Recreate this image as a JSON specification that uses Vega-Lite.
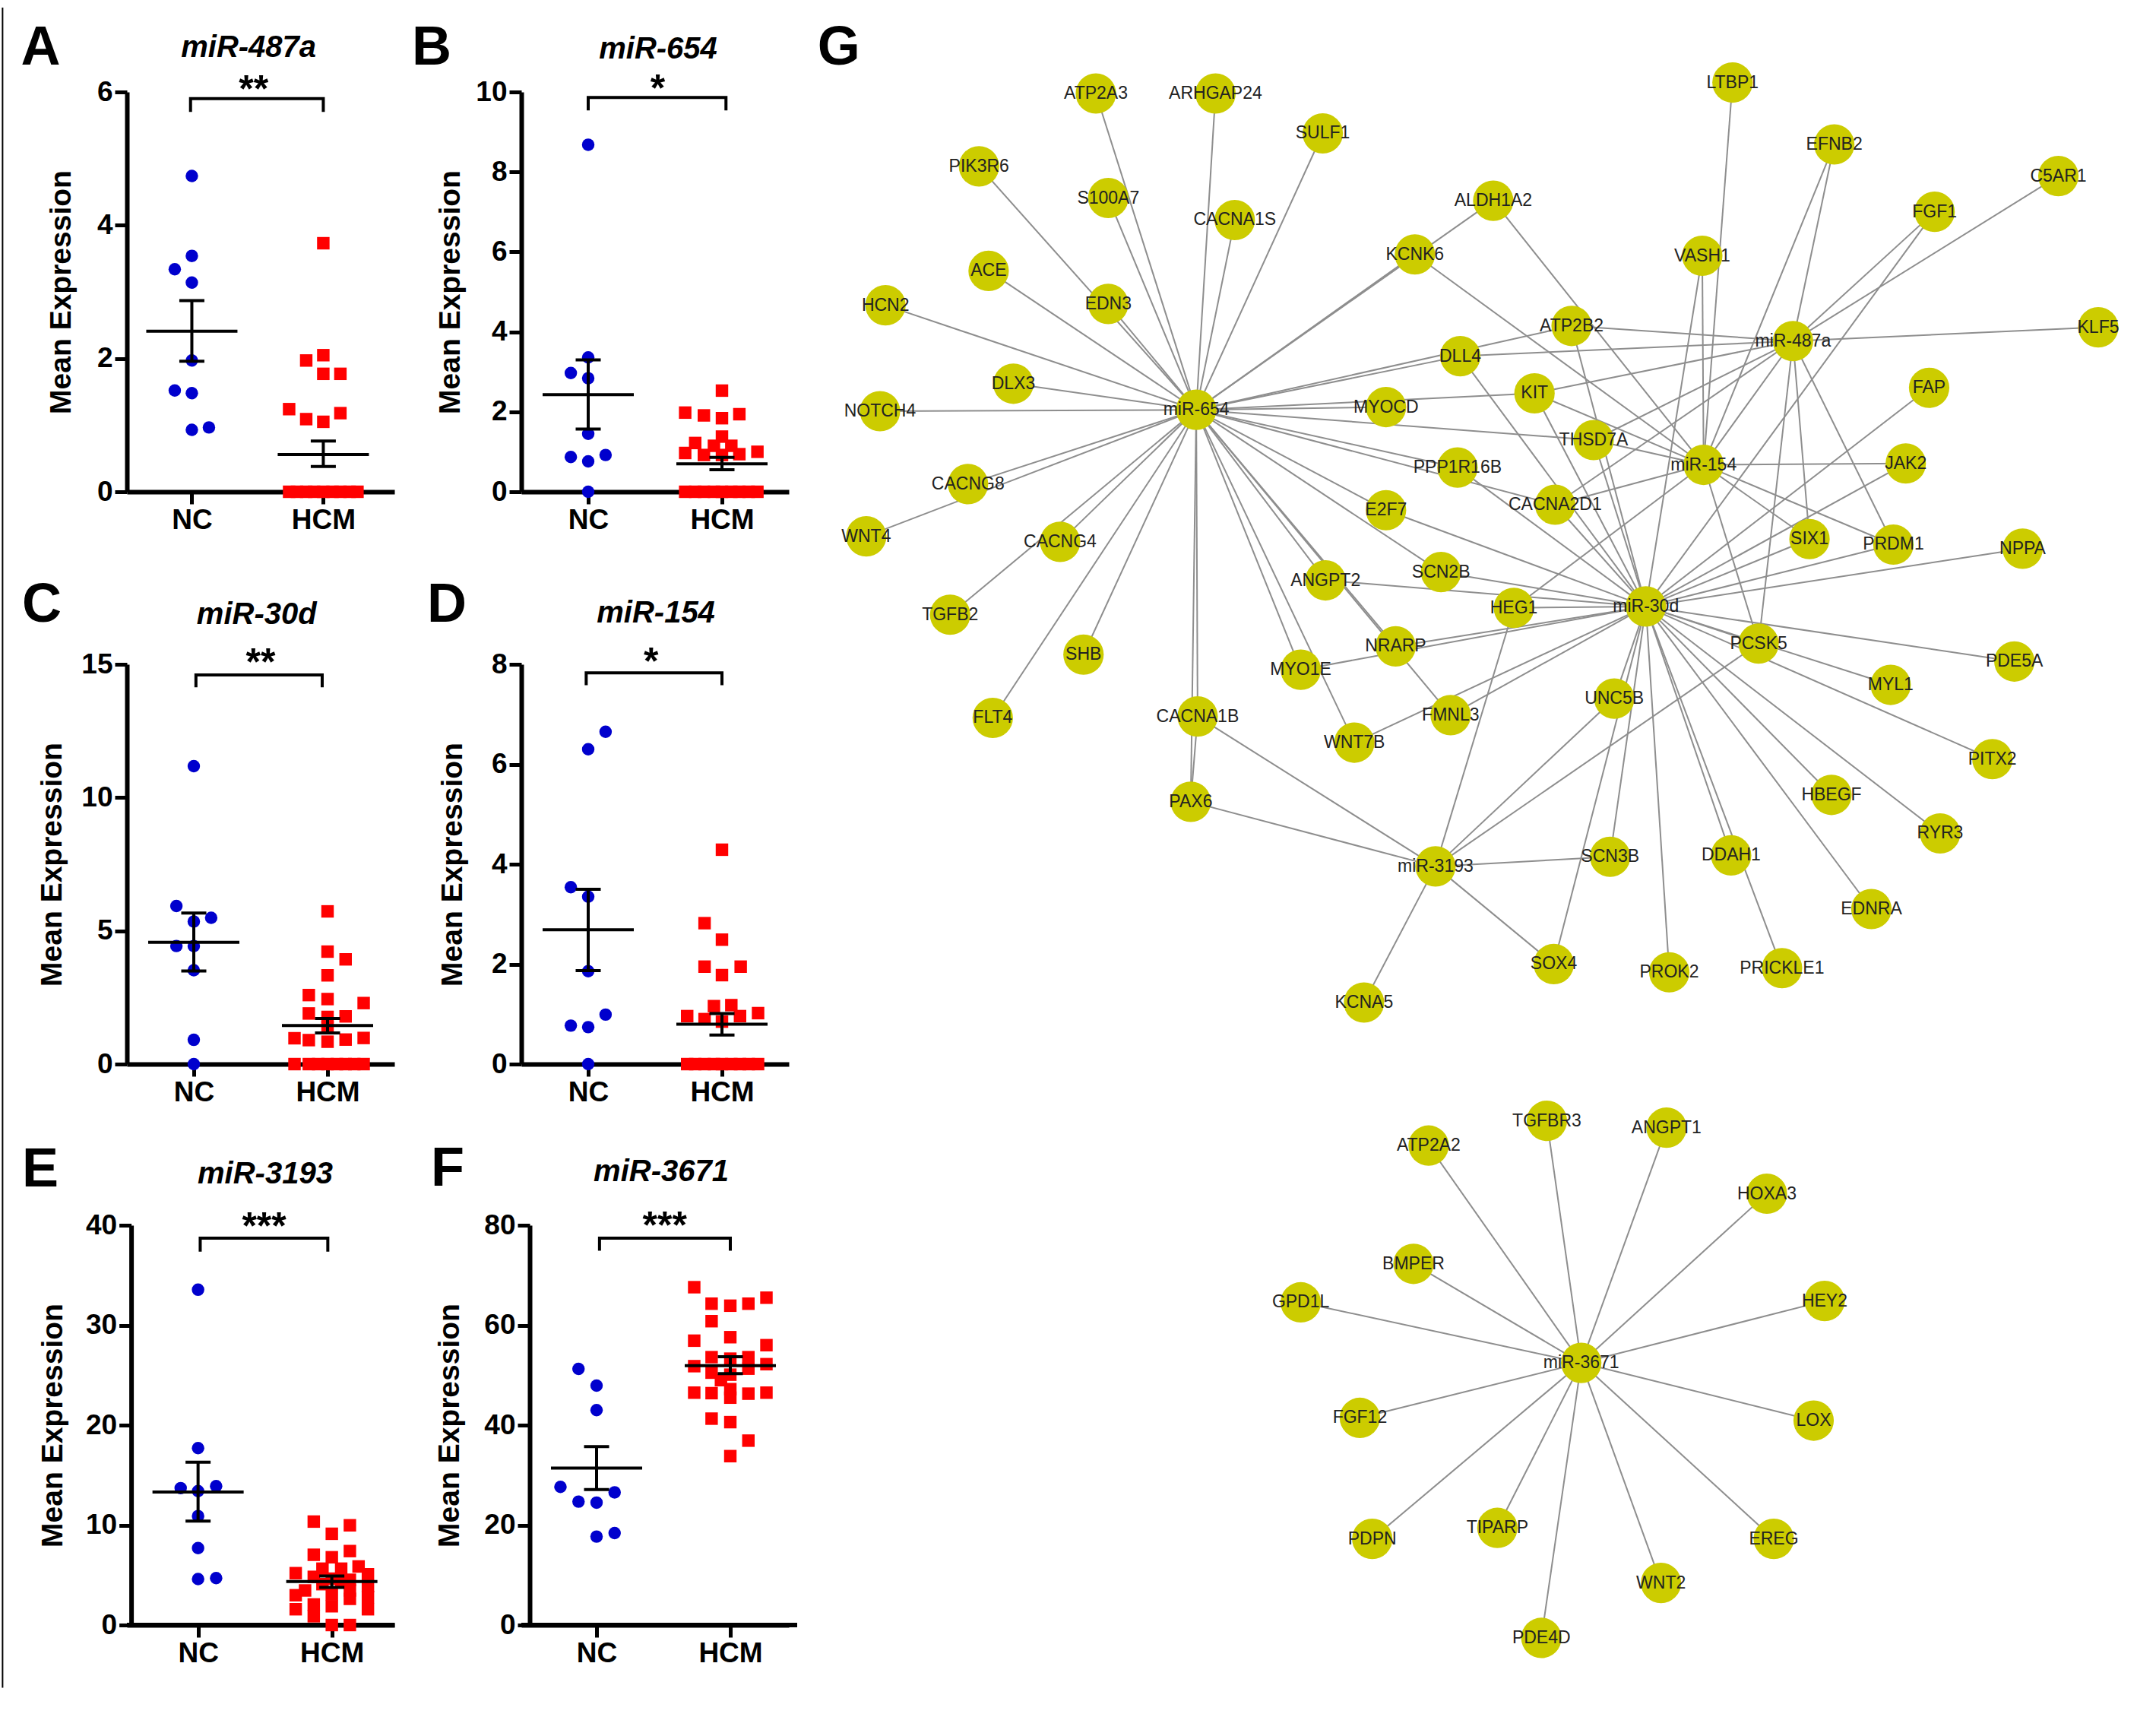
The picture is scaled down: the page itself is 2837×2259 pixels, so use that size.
{"$schema":"https://vega.github.io/schema/vega-lite/v6.json","padding":{"left":2,"top":9,"right":0,"bottom":0},"background":"white","columns":3,"bounds":"flush","spacing":{"row":212,"column":167},
"config":{"view":{"stroke":null},"axis":{"grid":false,"domainColor":"black","domainWidth":6,"tickColor":"black","tickWidth":5,"tickSize":16,"labelFont":"Liberation Sans","labelFontWeight":"bold","labelFontSize":37,"labelColor":"black","labelPadding":3,"labelOverlap":false,"labelBound":false,"labelFlush":false,"titleFont":"Liberation Sans","titleFontWeight":"bold","titleFontSize":39,"titleColor":"black"}},
"datasets":{
"points":[
{"p":"A","g":"NC","x":1,"y":4.74},{"p":"A","g":"NC","x":1,"y":3.54},{"p":"A","g":"NC","x":0.87,"y":3.34},{"p":"A","g":"NC","x":1,"y":3.14},{"p":"A","g":"NC","x":1,"y":1.97},{"p":"A","g":"NC","x":0.87,"y":1.52},{"p":"A","g":"NC","x":1,"y":1.48},{"p":"A","g":"NC","x":1.13,"y":0.965},{"p":"A","g":"NC","x":1,"y":0.93},
{"p":"A","g":"HCM","x":2,"y":3.73},{"p":"A","g":"HCM","x":2,"y":2.05},{"p":"A","g":"HCM","x":1.87,"y":1.97},{"p":"A","g":"HCM","x":2,"y":1.77},{"p":"A","g":"HCM","x":2.13,"y":1.77},{"p":"A","g":"HCM","x":1.74,"y":1.24},{"p":"A","g":"HCM","x":2.13,"y":1.18},{"p":"A","g":"HCM","x":1.87,"y":1.09},{"p":"A","g":"HCM","x":2,"y":1.05},
{"p":"A","g":"HCM","x":1.74,"y":0},{"p":"A","g":"HCM","x":1.8,"y":0},{"p":"A","g":"HCM","x":1.87,"y":0},{"p":"A","g":"HCM","x":1.93,"y":0},{"p":"A","g":"HCM","x":2,"y":0},{"p":"A","g":"HCM","x":2.07,"y":0},{"p":"A","g":"HCM","x":2.13,"y":0},{"p":"A","g":"HCM","x":2.2,"y":0},{"p":"A","g":"HCM","x":2.26,"y":0},
{"p":"B","g":"NC","x":1,"y":8.68},{"p":"B","g":"NC","x":1,"y":3.36},{"p":"B","g":"NC","x":0.87,"y":2.97},{"p":"B","g":"NC","x":1,"y":2.84},{"p":"B","g":"NC","x":1,"y":1.45},{"p":"B","g":"NC","x":1.13,"y":0.92},{"p":"B","g":"NC","x":0.87,"y":0.87},{"p":"B","g":"NC","x":1,"y":0.76},{"p":"B","g":"NC","x":1,"y":0},
{"p":"B","g":"HCM","x":2,"y":2.53},{"p":"B","g":"HCM","x":1.725,"y":1.98},{"p":"B","g":"HCM","x":1.865,"y":1.91},{"p":"B","g":"HCM","x":2.13,"y":1.94},{"p":"B","g":"HCM","x":2,"y":1.84},{"p":"B","g":"HCM","x":2,"y":1.38},{"p":"B","g":"HCM","x":1.8,"y":1.22},{"p":"B","g":"HCM","x":1.94,"y":1.15},{"p":"B","g":"HCM","x":2.07,"y":1.15},{"p":"B","g":"HCM","x":1.725,"y":0.97},{"p":"B","g":"HCM","x":1.865,"y":0.92},{"p":"B","g":"HCM","x":2,"y":0.92},{"p":"B","g":"HCM","x":2.13,"y":0.94},{"p":"B","g":"HCM","x":2.265,"y":1},
{"p":"B","g":"HCM","x":1.725,"y":0},{"p":"B","g":"HCM","x":1.8,"y":0},{"p":"B","g":"HCM","x":1.865,"y":0},{"p":"B","g":"HCM","x":1.94,"y":0},{"p":"B","g":"HCM","x":2,"y":0},{"p":"B","g":"HCM","x":2.07,"y":0},{"p":"B","g":"HCM","x":2.13,"y":0},{"p":"B","g":"HCM","x":2.2,"y":0},{"p":"B","g":"HCM","x":2.265,"y":0},
{"p":"C","g":"NC","x":1,"y":11.18},{"p":"C","g":"NC","x":0.87,"y":5.93},{"p":"C","g":"NC","x":1.13,"y":5.49},{"p":"C","g":"NC","x":1,"y":5.35},{"p":"C","g":"NC","x":0.87,"y":4.43},{"p":"C","g":"NC","x":1,"y":4.43},{"p":"C","g":"NC","x":1,"y":3.52},{"p":"C","g":"NC","x":1,"y":0.91},{"p":"C","g":"NC","x":1,"y":0},
{"p":"C","g":"HCM","x":2,"y":5.73},{"p":"C","g":"HCM","x":2,"y":4.22},{"p":"C","g":"HCM","x":2.135,"y":3.93},{"p":"C","g":"HCM","x":2,"y":3.33},{"p":"C","g":"HCM","x":1.86,"y":2.59},{"p":"C","g":"HCM","x":2,"y":2.44},{"p":"C","g":"HCM","x":2.27,"y":2.29},{"p":"C","g":"HCM","x":1.86,"y":1.9},{"p":"C","g":"HCM","x":2,"y":1.77},{"p":"C","g":"HCM","x":2.135,"y":1.79},{"p":"C","g":"HCM","x":2,"y":1.39},{"p":"C","g":"HCM","x":1.753,"y":0.97},{"p":"C","g":"HCM","x":1.86,"y":0.9},{"p":"C","g":"HCM","x":2,"y":0.84},{"p":"C","g":"HCM","x":2.135,"y":0.92},{"p":"C","g":"HCM","x":2.27,"y":0.98},
{"p":"C","g":"HCM","x":1.753,"y":0},{"p":"C","g":"HCM","x":1.86,"y":0},{"p":"C","g":"HCM","x":1.93,"y":0},{"p":"C","g":"HCM","x":2,"y":0},{"p":"C","g":"HCM","x":2.07,"y":0},{"p":"C","g":"HCM","x":2.135,"y":0},{"p":"C","g":"HCM","x":2.2,"y":0},{"p":"C","g":"HCM","x":2.27,"y":0},
{"p":"D","g":"NC","x":1.13,"y":6.65},{"p":"D","g":"NC","x":1,"y":6.3},{"p":"D","g":"NC","x":0.87,"y":3.54},{"p":"D","g":"NC","x":1,"y":3.35},{"p":"D","g":"NC","x":1,"y":1.86},{"p":"D","g":"NC","x":1.13,"y":0.99},{"p":"D","g":"NC","x":0.87,"y":0.77},{"p":"D","g":"NC","x":1,"y":0.74},{"p":"D","g":"NC","x":1,"y":0},
{"p":"D","g":"HCM","x":2,"y":4.29},{"p":"D","g":"HCM","x":1.87,"y":2.82},{"p":"D","g":"HCM","x":2,"y":2.49},{"p":"D","g":"HCM","x":1.87,"y":1.95},{"p":"D","g":"HCM","x":2.14,"y":1.95},{"p":"D","g":"HCM","x":2,"y":1.78},{"p":"D","g":"HCM","x":1.94,"y":1.16},{"p":"D","g":"HCM","x":2.07,"y":1.18},{"p":"D","g":"HCM","x":1.74,"y":0.96},{"p":"D","g":"HCM","x":2.27,"y":1.02},{"p":"D","g":"HCM","x":1.87,"y":0.9},{"p":"D","g":"HCM","x":2.135,"y":0.96},{"p":"D","g":"HCM","x":2,"y":0.85},
{"p":"D","g":"HCM","x":1.74,"y":0},{"p":"D","g":"HCM","x":1.8,"y":0},{"p":"D","g":"HCM","x":1.87,"y":0},{"p":"D","g":"HCM","x":1.94,"y":0},{"p":"D","g":"HCM","x":2,"y":0},{"p":"D","g":"HCM","x":2.07,"y":0},{"p":"D","g":"HCM","x":2.135,"y":0},{"p":"D","g":"HCM","x":2.2,"y":0},{"p":"D","g":"HCM","x":2.27,"y":0},
{"p":"E","g":"NC","x":1,"y":33.55},{"p":"E","g":"NC","x":1,"y":17.7},{"p":"E","g":"NC","x":1.135,"y":13.9},{"p":"E","g":"NC","x":0.87,"y":13.7},{"p":"E","g":"NC","x":1,"y":13.4},{"p":"E","g":"NC","x":1,"y":10.9},{"p":"E","g":"NC","x":1,"y":7.7},{"p":"E","g":"NC","x":1.135,"y":4.7},{"p":"E","g":"NC","x":1,"y":4.6},
{"p":"E","g":"HCM","x":1.865,"y":10.35},{"p":"E","g":"HCM","x":2.135,"y":9.98},{"p":"E","g":"HCM","x":2,"y":9.13},{"p":"E","g":"HCM","x":2.135,"y":7.4},{"p":"E","g":"HCM","x":1.865,"y":7.03},{"p":"E","g":"HCM","x":2,"y":6.78},{"p":"E","g":"HCM","x":2.2,"y":5.86},{"p":"E","g":"HCM","x":1.93,"y":5.64},{"p":"E","g":"HCM","x":2.07,"y":5.64},{"p":"E","g":"HCM","x":1.73,"y":5.19},{"p":"E","g":"HCM","x":2.27,"y":5.08},{"p":"E","g":"HCM","x":1.865,"y":4.82},{"p":"E","g":"HCM","x":2,"y":4.64},{"p":"E","g":"HCM","x":2.135,"y":4.53},{"p":"E","g":"HCM","x":2.07,"y":4.27},{"p":"E","g":"HCM","x":1.93,"y":4.09},{"p":"E","g":"HCM","x":2.27,"y":3.9},{"p":"E","g":"HCM","x":1.8,"y":3.46},{"p":"E","g":"HCM","x":2.135,"y":3.46},{"p":"E","g":"HCM","x":2,"y":3.09},{"p":"E","g":"HCM","x":1.73,"y":2.98},{"p":"E","g":"HCM","x":2.27,"y":2.8},{"p":"E","g":"HCM","x":2.135,"y":2.62},{"p":"E","g":"HCM","x":1.865,"y":2.06},{"p":"E","g":"HCM","x":2,"y":1.88},{"p":"E","g":"HCM","x":1.73,"y":1.58},{"p":"E","g":"HCM","x":2.27,"y":1.58},{"p":"E","g":"HCM","x":1.865,"y":0.88},{"p":"E","g":"HCM","x":2,"y":0},{"p":"E","g":"HCM","x":2.135,"y":0},
{"p":"F","g":"NC","x":0.865,"y":51.25},{"p":"F","g":"NC","x":1,"y":47.9},{"p":"F","g":"NC","x":1,"y":43},{"p":"F","g":"NC","x":0.73,"y":27.65},{"p":"F","g":"NC","x":1.135,"y":26.55},{"p":"F","g":"NC","x":0.865,"y":24.7},{"p":"F","g":"NC","x":1,"y":24.5},{"p":"F","g":"NC","x":1.135,"y":18.4},{"p":"F","g":"NC","x":1,"y":17.7},
{"p":"F","g":"HCM","x":1.73,"y":67.6},{"p":"F","g":"HCM","x":2.27,"y":65.5},{"p":"F","g":"HCM","x":1.86,"y":64.3},{"p":"F","g":"HCM","x":2,"y":63.9},{"p":"F","g":"HCM","x":2.135,"y":64.3},{"p":"F","g":"HCM","x":1.86,"y":60.8},{"p":"F","g":"HCM","x":2,"y":57.6},{"p":"F","g":"HCM","x":1.73,"y":56.9},{"p":"F","g":"HCM","x":2.27,"y":56},{"p":"F","g":"HCM","x":1.86,"y":53.6},{"p":"F","g":"HCM","x":2,"y":53.3},{"p":"F","g":"HCM","x":2.135,"y":53.6},{"p":"F","g":"HCM","x":1.73,"y":51.8},{"p":"F","g":"HCM","x":2.27,"y":52.2},{"p":"F","g":"HCM","x":2.135,"y":51.3},{"p":"F","g":"HCM","x":1.86,"y":50.5},{"p":"F","g":"HCM","x":2,"y":50.1},{"p":"F","g":"HCM","x":1.93,"y":49},{"p":"F","g":"HCM","x":1.73,"y":46.5},{"p":"F","g":"HCM","x":1.86,"y":46.4},{"p":"F","g":"HCM","x":2,"y":47.2},{"p":"F","g":"HCM","x":2.135,"y":46.3},{"p":"F","g":"HCM","x":2.27,"y":46.5},{"p":"F","g":"HCM","x":2,"y":45.5},{"p":"F","g":"HCM","x":1.86,"y":41.3},{"p":"F","g":"HCM","x":2,"y":40.6},{"p":"F","g":"HCM","x":2.135,"y":36.9},{"p":"F","g":"HCM","x":2,"y":33.8}
],
"stats":[
{"p":"A","x":1,"mean":2.41,"lo":1.96,"hi":2.87},{"p":"A","x":2,"mean":0.56,"lo":0.38,"hi":0.76},
{"p":"B","x":1,"mean":2.43,"lo":1.57,"hi":3.3},{"p":"B","x":2,"mean":0.7,"lo":0.55,"hi":0.86},
{"p":"C","x":1,"mean":4.57,"lo":3.49,"hi":5.67},{"p":"C","x":2,"mean":1.45,"lo":1.17,"hi":1.71},
{"p":"D","x":1,"mean":2.69,"lo":1.87,"hi":3.5},{"p":"D","x":2,"mean":0.8,"lo":0.58,"hi":1.01},
{"p":"E","x":1,"mean":13.3,"lo":10.4,"hi":16.3},{"p":"E","x":2,"mean":4.35,"lo":3.76,"hi":4.9},
{"p":"F","x":1,"mean":31.4,"lo":27.1,"hi":35.7},{"p":"F","x":2,"mean":51.9,"lo":50.3,"hi":53.7}
],
"brackets":[
{"p":"A","i":1,"x":0.99,"y":5.7},{"p":"A","i":2,"x":0.99,"y":5.9},{"p":"A","i":3,"x":2,"y":5.9},{"p":"A","i":4,"x":2,"y":5.7},
{"p":"B","i":1,"x":1,"y":9.54},{"p":"B","i":2,"x":1,"y":9.86},{"p":"B","i":3,"x":2.03,"y":9.86},{"p":"B","i":4,"x":2.03,"y":9.54},
{"p":"C","i":1,"x":1.016,"y":14.14},{"p":"C","i":2,"x":1.016,"y":14.6},{"p":"C","i":3,"x":1.96,"y":14.6},{"p":"C","i":4,"x":1.96,"y":14.14},
{"p":"D","i":1,"x":0.985,"y":7.58},{"p":"D","i":2,"x":0.985,"y":7.83},{"p":"D","i":3,"x":2,"y":7.83},{"p":"D","i":4,"x":2,"y":7.58},
{"p":"E","i":1,"x":1.016,"y":37.35},{"p":"E","i":2,"x":1.016,"y":38.7},{"p":"E","i":3,"x":1.97,"y":38.7},{"p":"E","i":4,"x":1.97,"y":37.35},
{"p":"F","i":1,"x":1.022,"y":74.9},{"p":"F","i":2,"x":1.022,"y":77.4},{"p":"F","i":3,"x":2,"y":77.4},{"p":"F","i":4,"x":2,"y":74.9}
],
"stars":[
{"p":"A","x":1.47,"y":6.155,"t":"**"},{"p":"B","x":1.52,"y":10.28,"t":"*"},{"p":"C","x":1.5,"y":15.36,"t":"**"},{"p":"D","x":1.47,"y":8.22,"t":"*"},{"p":"E","x":1.494,"y":40.7,"t":"***"},{"p":"F","x":1.51,"y":81.5,"t":"***"}
],
"titles":[
{"p":"A","x":1.432,"y":6.525,"t":"miR-487a"},{"p":"B","x":1.523,"y":10.84,"t":"miR-654"},{"p":"C","x":1.47,"y":16.52,"t":"miR-30d"},{"p":"D","x":1.506,"y":8.84,"t":"miR-154"},{"p":"E","x":1.502,"y":44.18,"t":"miR-3193"},{"p":"F","x":1.483,"y":88.82,"t":"miR-3671"}
],
"letters":[
{"p":"A","x":-0.15,"y":6.41,"t":"A"},{"p":"B","x":-0.17,"y":10.68,"t":"B"},{"p":"C","x":-0.136,"y":16.6,"t":"C"},{"p":"D","x":-0.057,"y":8.85,"t":"D"},{"p":"E","x":-0.18,"y":43.9,"t":"E"},{"p":"F","x":-0.114,"y":87.9,"t":"F"}
],
"nodes":[
{"name":"miR-654","x":870,"y":298},{"name":"miR-487a","x":1304,"y":248},{"name":"miR-154","x":1239,"y":338},{"name":"miR-30d","x":1197,"y":441},{"name":"miR-3193","x":1044,"y":630},{"name":"miR-3671","x":1150,"y":991},
{"name":"ATP2A3","x":797,"y":68},{"name":"ARHGAP24","x":884,"y":68},{"name":"SULF1","x":962,"y":97},{"name":"PIK3R6","x":712,"y":121},{"name":"S100A7","x":806,"y":144},{"name":"CACNA1S","x":898,"y":160},{"name":"ALDH1A2","x":1086,"y":146},{"name":"KCNK6","x":1029,"y":185},{"name":"ACE","x":719,"y":197},{"name":"EDN3","x":806,"y":221},{"name":"HCN2","x":644,"y":222},{"name":"DLX3","x":737,"y":279},{"name":"DLL4","x":1062,"y":259},{"name":"NOTCH4","x":640,"y":299},{"name":"MYOCD","x":1008,"y":296},{"name":"KIT","x":1116,"y":286},{"name":"ATP2B2","x":1143,"y":237},{"name":"THSD7A","x":1159,"y":320},{"name":"PPP1R16B","x":1060,"y":340},{"name":"CACNG8","x":704,"y":352},{"name":"WNT4","x":630,"y":390},{"name":"CACNG4","x":771,"y":394},{"name":"E2F7","x":1008,"y":371},{"name":"CACNA2D1","x":1131,"y":367},{"name":"ANGPT2","x":964,"y":422},{"name":"SCN2B","x":1048,"y":416},{"name":"TGFB2","x":691,"y":447},{"name":"SHB","x":788,"y":476},{"name":"HEG1","x":1101,"y":442},{"name":"NRARP","x":1015,"y":470},{"name":"MYO1E","x":946,"y":487},{"name":"FLT4","x":722,"y":522},{"name":"CACNA1B","x":871,"y":521},{"name":"FMNL3","x":1055,"y":520},{"name":"WNT7B","x":985,"y":540},{"name":"UNC5B","x":1174,"y":508},{"name":"PCSK5","x":1279,"y":468},{"name":"PAX6","x":866,"y":583},{"name":"SCN3B","x":1171,"y":623},{"name":"DDAH1","x":1259,"y":622},{"name":"HBEGF","x":1332,"y":578},{"name":"MYL1","x":1375,"y":498},{"name":"PDE5A","x":1465,"y":481},{"name":"PITX2","x":1449,"y":552},{"name":"RYR3","x":1411,"y":606},{"name":"EDNRA","x":1361,"y":661},{"name":"SOX4","x":1130,"y":701},{"name":"PROK2","x":1214,"y":707},{"name":"PRICKLE1","x":1296,"y":704},{"name":"KCNA5","x":992,"y":729},{"name":"NPPA","x":1471,"y":399},{"name":"PRDM1","x":1377,"y":396},{"name":"SIX1","x":1316,"y":392},{"name":"JAK2","x":1386,"y":337},{"name":"FAP","x":1403,"y":282},{"name":"KLF5","x":1526,"y":238},{"name":"C5AR1","x":1497,"y":128},{"name":"FGF1","x":1407,"y":154},{"name":"EFNB2","x":1334,"y":105},{"name":"LTBP1","x":1260,"y":60},{"name":"VASH1","x":1238,"y":186},
{"name":"ATP2A2","x":1039,"y":833},{"name":"TGFBR3","x":1125,"y":815},{"name":"ANGPT1","x":1212,"y":820},{"name":"HOXA3","x":1285,"y":868},{"name":"HEY2","x":1327,"y":946},{"name":"LOX","x":1319,"y":1033},{"name":"EREG","x":1290,"y":1119},{"name":"WNT2","x":1208,"y":1151},{"name":"PDE4D","x":1121,"y":1191},{"name":"TIPARP","x":1089,"y":1111},{"name":"PDPN","x":998,"y":1119},{"name":"FGF12","x":989,"y":1031},{"name":"GPD1L","x":946,"y":947},{"name":"BMPER","x":1028,"y":919}
],
"edges":[
{"s":"miR-654","t":"ATP2A3"},{"s":"miR-654","t":"ARHGAP24"},{"s":"miR-654","t":"SULF1"},{"s":"miR-654","t":"PIK3R6"},{"s":"miR-654","t":"S100A7"},{"s":"miR-654","t":"CACNA1S"},{"s":"miR-654","t":"KCNK6"},{"s":"miR-654","t":"ALDH1A2"},{"s":"miR-654","t":"ACE"},{"s":"miR-654","t":"EDN3"},{"s":"miR-654","t":"HCN2"},{"s":"miR-654","t":"DLX3"},{"s":"miR-654","t":"DLL4"},{"s":"miR-654","t":"ATP2B2"},{"s":"miR-654","t":"NOTCH4"},{"s":"miR-654","t":"MYOCD"},{"s":"miR-654","t":"KIT"},{"s":"miR-654","t":"THSD7A"},{"s":"miR-654","t":"PPP1R16B"},{"s":"miR-654","t":"CACNA2D1"},{"s":"miR-654","t":"CACNG8"},{"s":"miR-654","t":"WNT4"},{"s":"miR-654","t":"CACNG4"},{"s":"miR-654","t":"TGFB2"},{"s":"miR-654","t":"SHB"},{"s":"miR-654","t":"FLT4"},{"s":"miR-654","t":"E2F7"},{"s":"miR-654","t":"SCN2B"},{"s":"miR-654","t":"ANGPT2"},{"s":"miR-654","t":"NRARP"},{"s":"miR-654","t":"MYO1E"},{"s":"miR-654","t":"WNT7B"},{"s":"miR-654","t":"FMNL3"},{"s":"miR-654","t":"CACNA1B"},{"s":"miR-654","t":"PAX6"},
{"s":"miR-30d","t":"E2F7"},{"s":"miR-30d","t":"ANGPT2"},{"s":"miR-30d","t":"SCN2B"},{"s":"miR-30d","t":"HEG1"},{"s":"miR-30d","t":"NRARP"},{"s":"miR-30d","t":"MYO1E"},{"s":"miR-30d","t":"FMNL3"},{"s":"miR-30d","t":"WNT7B"},{"s":"miR-30d","t":"UNC5B"},{"s":"miR-30d","t":"SOX4"},{"s":"miR-30d","t":"PROK2"},{"s":"miR-30d","t":"DDAH1"},{"s":"miR-30d","t":"PRICKLE1"},{"s":"miR-30d","t":"SCN3B"},{"s":"miR-30d","t":"EDNRA"},{"s":"miR-30d","t":"RYR3"},{"s":"miR-30d","t":"PITX2"},{"s":"miR-30d","t":"HBEGF"},{"s":"miR-30d","t":"PCSK5"},{"s":"miR-30d","t":"MYL1"},{"s":"miR-30d","t":"PDE5A"},{"s":"miR-30d","t":"NPPA"},{"s":"miR-30d","t":"PRDM1"},{"s":"miR-30d","t":"SIX1"},{"s":"miR-30d","t":"JAK2"},{"s":"miR-30d","t":"FAP"},{"s":"miR-30d","t":"DLL4"},{"s":"miR-30d","t":"VASH1"},{"s":"miR-30d","t":"ATP2B2"},{"s":"miR-30d","t":"KIT"},{"s":"miR-30d","t":"THSD7A"},{"s":"miR-30d","t":"CACNA2D1"},{"s":"miR-30d","t":"PPP1R16B"},
{"s":"miR-3193","t":"HEG1"},{"s":"miR-3193","t":"UNC5B"},{"s":"miR-3193","t":"PCSK5"},{"s":"miR-3193","t":"CACNA1B"},{"s":"miR-3193","t":"PAX6"},{"s":"miR-3193","t":"SCN3B"},{"s":"miR-3193","t":"SOX4"},{"s":"miR-3193","t":"KCNA5"},
{"s":"miR-154","t":"JAK2"},{"s":"miR-154","t":"PRDM1"},{"s":"miR-154","t":"SIX1"},{"s":"miR-154","t":"VASH1"},{"s":"miR-154","t":"LTBP1"},{"s":"miR-154","t":"KIT"},{"s":"miR-154","t":"THSD7A"},{"s":"miR-154","t":"ALDH1A2"},{"s":"miR-154","t":"CACNA2D1"},{"s":"miR-154","t":"KCNK6"},{"s":"miR-154","t":"EFNB2"},{"s":"miR-154","t":"PCSK5"},{"s":"miR-154","t":"HEG1"},
{"s":"miR-487a","t":"KLF5"},{"s":"miR-487a","t":"C5AR1"},{"s":"miR-487a","t":"FGF1"},{"s":"miR-487a","t":"EFNB2"},{"s":"miR-487a","t":"ATP2B2"},{"s":"miR-487a","t":"DLL4"},{"s":"miR-487a","t":"KIT"},{"s":"miR-487a","t":"THSD7A"},{"s":"miR-487a","t":"CACNA2D1"},{"s":"miR-487a","t":"PRDM1"},{"s":"miR-487a","t":"SIX1"},{"s":"miR-487a","t":"PCSK5"},{"s":"miR-487a","t":"miR-154"},{"s":"miR-30d","t":"FGF1"},
{"s":"CACNA1B","t":"PAX6"},
{"s":"miR-3671","t":"ATP2A2"},{"s":"miR-3671","t":"TGFBR3"},{"s":"miR-3671","t":"ANGPT1"},{"s":"miR-3671","t":"HOXA3"},{"s":"miR-3671","t":"HEY2"},{"s":"miR-3671","t":"LOX"},{"s":"miR-3671","t":"EREG"},{"s":"miR-3671","t":"WNT2"},{"s":"miR-3671","t":"PDE4D"},{"s":"miR-3671","t":"TIPARP"},{"s":"miR-3671","t":"PDPN"},{"s":"miR-3671","t":"FGF12"},{"s":"miR-3671","t":"GPD1L"},{"s":"miR-3671","t":"BMPER"}
],
"border":[{"x":-0.44,"y":7.266,"y2":-17.95}],
"panelG":[{"x":610,"y":47,"t":"G"}],
"axisE":[{"x":0.468,"x2":2.47,"y":0}],
"axisF":[{"x":0.4375,"x2":2.5,"y":0}]
},
"concat":[
{"width":352,"height":526,
 "encoding":{"x":{"field":"x","type":"quantitative","scale":{"domain":[0.506,2.541],"nice":false,"zero":false},"axis":{"values":[1,2],"labelExpr":"datum.value==1?'NC':'HCM'","title":null}},"y":{"field":"y","type":"quantitative","scale":{"domain":[0,6],"nice":false},"axis":{"values":[0,2,4,6],"title":"Mean Expression","titlePadding":27}}},
 "layer":[
 {"data":{"name":"border"},"mark":{"type":"rule","color":"black","strokeWidth":2},"encoding":{"y2":{"field":"y2"}}},
 {"data":{"name":"brackets"},"transform":[{"filter":"datum.p=='A'"}],"mark":{"type":"line","color":"black","strokeWidth":4},"encoding":{"order":{"field":"i"}}},
 {"data":{"name":"stars"},"transform":[{"filter":"datum.p=='A'"}],"mark":{"type":"text","font":"Liberation Sans","fontWeight":"bold","fontSize":50,"color":"black","baseline":"middle","dy":12},"encoding":{"text":{"field":"t"}}},
 {"data":{"name":"titles"},"transform":[{"filter":"datum.p=='A'"}],"mark":{"type":"text","font":"Liberation Sans","fontWeight":"bold","fontStyle":"italic","fontSize":40,"color":"black","baseline":"alphabetic"},"encoding":{"text":{"field":"t"}}},
 {"data":{"name":"letters"},"transform":[{"filter":"datum.p=='A'"}],"mark":{"type":"text","font":"Liberation Sans","fontWeight":"bold","fontSize":72,"color":"black","baseline":"alphabetic"},"encoding":{"text":{"field":"t"}}},
 {"data":{"name":"points"},"transform":[{"filter":"datum.p=='A'"}],"mark":{"type":"point","filled":true,"opacity":1,"size":270},"encoding":{"color":{"field":"g","scale":{"domain":["NC","HCM"],"range":["#0000CD","#FF0000"]},"legend":null},"shape":{"field":"g","scale":{"domain":["NC","HCM"],"range":["circle","square"]},"legend":null}}},
 {"data":{"name":"stats"},"transform":[{"filter":"datum.p=='A'"}],"mark":{"type":"rule","color":"black","strokeWidth":4},"encoding":{"y":{"field":"lo"},"y2":{"field":"hi"}}},
 {"data":{"name":"stats"},"transform":[{"filter":"datum.p=='A'"}],"mark":{"type":"tick","orient":"horizontal","color":"black","size":120,"thickness":4,"opacity":1},"encoding":{"y":{"field":"mean"}}},
 {"data":{"name":"stats"},"transform":[{"filter":"datum.p=='A'"}],"mark":{"type":"tick","orient":"horizontal","color":"black","size":33,"thickness":4,"opacity":1},"encoding":{"y":{"field":"lo"}}},
 {"data":{"name":"stats"},"transform":[{"filter":"datum.p=='A'"}],"mark":{"type":"tick","orient":"horizontal","color":"black","size":33,"thickness":4,"opacity":1},"encoding":{"y":{"field":"hi"}}}
 ]},
{"width":352,"height":526,
 "encoding":{"x":{"field":"x","type":"quantitative","scale":{"domain":[0.5,2.5],"nice":false,"zero":false},"axis":{"values":[1,2],"labelExpr":"datum.value==1?'NC':'HCM'","title":null}},"y":{"field":"y","type":"quantitative","scale":{"domain":[0,10],"nice":false},"axis":{"values":[0,2,4,6,8,10],"title":"Mean Expression","titlePadding":13}}},
 "layer":[
 {"data":{"name":"brackets"},"transform":[{"filter":"datum.p=='B'"}],"mark":{"type":"line","color":"black","strokeWidth":4},"encoding":{"order":{"field":"i"}}},
 {"data":{"name":"stars"},"transform":[{"filter":"datum.p=='B'"}],"mark":{"type":"text","font":"Liberation Sans","fontWeight":"bold","fontSize":50,"color":"black","baseline":"middle","dy":12},"encoding":{"text":{"field":"t"}}},
 {"data":{"name":"titles"},"transform":[{"filter":"datum.p=='B'"}],"mark":{"type":"text","font":"Liberation Sans","fontWeight":"bold","fontStyle":"italic","fontSize":40,"color":"black","baseline":"alphabetic"},"encoding":{"text":{"field":"t"}}},
 {"data":{"name":"letters"},"transform":[{"filter":"datum.p=='B'"}],"mark":{"type":"text","font":"Liberation Sans","fontWeight":"bold","fontSize":72,"color":"black","baseline":"alphabetic"},"encoding":{"text":{"field":"t"}}},
 {"data":{"name":"points"},"transform":[{"filter":"datum.p=='B'"}],"mark":{"type":"point","filled":true,"opacity":1,"size":270},"encoding":{"color":{"field":"g","scale":{"domain":["NC","HCM"],"range":["#0000CD","#FF0000"]},"legend":null},"shape":{"field":"g","scale":{"domain":["NC","HCM"],"range":["circle","square"]},"legend":null}}},
 {"data":{"name":"stats"},"transform":[{"filter":"datum.p=='B'"}],"mark":{"type":"rule","color":"black","strokeWidth":4},"encoding":{"y":{"field":"lo"},"y2":{"field":"hi"}}},
 {"data":{"name":"stats"},"transform":[{"filter":"datum.p=='B'"}],"mark":{"type":"tick","orient":"horizontal","color":"black","size":120,"thickness":4,"opacity":1},"encoding":{"y":{"field":"mean"}}},
 {"data":{"name":"stats"},"transform":[{"filter":"datum.p=='B'"}],"mark":{"type":"tick","orient":"horizontal","color":"black","size":33,"thickness":4,"opacity":1},"encoding":{"y":{"field":"lo"}}},
 {"data":{"name":"stats"},"transform":[{"filter":"datum.p=='B'"}],"mark":{"type":"tick","orient":"horizontal","color":"black","size":33,"thickness":4,"opacity":1},"encoding":{"y":{"field":"hi"}}}
 ]},
{"width":1632,"height":541,
 "encoding":{"x":{"field":"x","type":"quantitative","scale":{"domain":[666,1568],"nice":false,"zero":false},"axis":null},"y":{"field":"y","type":"quantitative","scale":{"domain":[66.88,365.88],"nice":false,"zero":false,"reverse":true},"axis":null}},
 "layer":[
 {"data":{"name":"edges"},"transform":[{"lookup":"s","from":{"data":{"name":"nodes"},"key":"name","fields":["x","y"]}},{"lookup":"t","from":{"data":{"name":"nodes"},"key":"name","fields":["x","y"]},"as":["x2","y2"]}],"mark":{"type":"rule","color":"#8E8E8E","strokeWidth":2},"encoding":{"x2":{"field":"x2"},"y2":{"field":"y2"}}},
 {"data":{"name":"nodes"},"mark":{"type":"circle","color":"#CCCC00","opacity":1,"size":2827}},
 {"data":{"name":"nodes"},"mark":{"type":"text","font":"Liberation Sans","fontSize":23,"color":"#222222"},"encoding":{"text":{"field":"name"}}},
 {"data":{"name":"panelG"},"mark":{"type":"text","font":"Liberation Sans","fontWeight":"bold","fontSize":72,"color":"black","baseline":"alphabetic"},"encoding":{"text":{"field":"t"}}}
 ]},
{"width":352,"height":526,
 "encoding":{"x":{"field":"x","type":"quantitative","scale":{"domain":[0.5,2.5],"nice":false,"zero":false},"axis":{"values":[1,2],"labelExpr":"datum.value==1?'NC':'HCM'","title":null}},"y":{"field":"y","type":"quantitative","scale":{"domain":[0,15],"nice":false},"axis":{"values":[0,5,10,15],"title":"Mean Expression","titlePadding":18}}},
 "layer":[
 {"data":{"name":"brackets"},"transform":[{"filter":"datum.p=='C'"}],"mark":{"type":"line","color":"black","strokeWidth":4},"encoding":{"order":{"field":"i"}}},
 {"data":{"name":"stars"},"transform":[{"filter":"datum.p=='C'"}],"mark":{"type":"text","font":"Liberation Sans","fontWeight":"bold","fontSize":50,"color":"black","baseline":"middle","dy":12},"encoding":{"text":{"field":"t"}}},
 {"data":{"name":"titles"},"transform":[{"filter":"datum.p=='C'"}],"mark":{"type":"text","font":"Liberation Sans","fontWeight":"bold","fontStyle":"italic","fontSize":40,"color":"black","baseline":"alphabetic"},"encoding":{"text":{"field":"t"}}},
 {"data":{"name":"letters"},"transform":[{"filter":"datum.p=='C'"}],"mark":{"type":"text","font":"Liberation Sans","fontWeight":"bold","fontSize":72,"color":"black","baseline":"alphabetic"},"encoding":{"text":{"field":"t"}}},
 {"data":{"name":"points"},"transform":[{"filter":"datum.p=='C'"}],"mark":{"type":"point","filled":true,"opacity":1,"size":270},"encoding":{"color":{"field":"g","scale":{"domain":["NC","HCM"],"range":["#0000CD","#FF0000"]},"legend":null},"shape":{"field":"g","scale":{"domain":["NC","HCM"],"range":["circle","square"]},"legend":null}}},
 {"data":{"name":"stats"},"transform":[{"filter":"datum.p=='C'"}],"mark":{"type":"rule","color":"black","strokeWidth":4},"encoding":{"y":{"field":"lo"},"y2":{"field":"hi"}}},
 {"data":{"name":"stats"},"transform":[{"filter":"datum.p=='C'"}],"mark":{"type":"tick","orient":"horizontal","color":"black","size":120,"thickness":4,"opacity":1},"encoding":{"y":{"field":"mean"}}},
 {"data":{"name":"stats"},"transform":[{"filter":"datum.p=='C'"}],"mark":{"type":"tick","orient":"horizontal","color":"black","size":33,"thickness":4,"opacity":1},"encoding":{"y":{"field":"lo"}}},
 {"data":{"name":"stats"},"transform":[{"filter":"datum.p=='C'"}],"mark":{"type":"tick","orient":"horizontal","color":"black","size":33,"thickness":4,"opacity":1},"encoding":{"y":{"field":"hi"}}}
 ]},
{"width":352,"height":526,
 "encoding":{"x":{"field":"x","type":"quantitative","scale":{"domain":[0.5,2.5],"nice":false,"zero":false},"axis":{"values":[1,2],"labelExpr":"datum.value==1?'NC':'HCM'","title":null}},"y":{"field":"y","type":"quantitative","scale":{"domain":[0,8],"nice":false},"axis":{"values":[0,2,4,6,8],"title":"Mean Expression","titlePadding":31}}},
 "layer":[
 {"data":{"name":"brackets"},"transform":[{"filter":"datum.p=='D'"}],"mark":{"type":"line","color":"black","strokeWidth":4},"encoding":{"order":{"field":"i"}}},
 {"data":{"name":"stars"},"transform":[{"filter":"datum.p=='D'"}],"mark":{"type":"text","font":"Liberation Sans","fontWeight":"bold","fontSize":50,"color":"black","baseline":"middle","dy":12},"encoding":{"text":{"field":"t"}}},
 {"data":{"name":"titles"},"transform":[{"filter":"datum.p=='D'"}],"mark":{"type":"text","font":"Liberation Sans","fontWeight":"bold","fontStyle":"italic","fontSize":40,"color":"black","baseline":"alphabetic"},"encoding":{"text":{"field":"t"}}},
 {"data":{"name":"letters"},"transform":[{"filter":"datum.p=='D'"}],"mark":{"type":"text","font":"Liberation Sans","fontWeight":"bold","fontSize":72,"color":"black","baseline":"alphabetic"},"encoding":{"text":{"field":"t"}}},
 {"data":{"name":"points"},"transform":[{"filter":"datum.p=='D'"}],"mark":{"type":"point","filled":true,"opacity":1,"size":270},"encoding":{"color":{"field":"g","scale":{"domain":["NC","HCM"],"range":["#0000CD","#FF0000"]},"legend":null},"shape":{"field":"g","scale":{"domain":["NC","HCM"],"range":["circle","square"]},"legend":null}}},
 {"data":{"name":"stats"},"transform":[{"filter":"datum.p=='D'"}],"mark":{"type":"rule","color":"black","strokeWidth":4},"encoding":{"y":{"field":"lo"},"y2":{"field":"hi"}}},
 {"data":{"name":"stats"},"transform":[{"filter":"datum.p=='D'"}],"mark":{"type":"tick","orient":"horizontal","color":"black","size":120,"thickness":4,"opacity":1},"encoding":{"y":{"field":"mean"}}},
 {"data":{"name":"stats"},"transform":[{"filter":"datum.p=='D'"}],"mark":{"type":"tick","orient":"horizontal","color":"black","size":33,"thickness":4,"opacity":1},"encoding":{"y":{"field":"lo"}}},
 {"data":{"name":"stats"},"transform":[{"filter":"datum.p=='D'"}],"mark":{"type":"tick","orient":"horizontal","color":"black","size":33,"thickness":4,"opacity":1},"encoding":{"y":{"field":"hi"}}}
 ]},
{"width":1,"height":1,"data":{"values":[{"a":1}]},"mark":{"type":"point","opacity":0},"encoding":{}},
{"width":352,"height":526,
 "encoding":{"x":{"field":"x","type":"quantitative","scale":{"domain":[0.468,2.468],"nice":false,"zero":false},"axis":{"values":[1,2],"labelExpr":"datum.value==1?'NC':'HCM'","title":null}},"y":{"field":"y","type":"quantitative","scale":{"domain":[0,40],"nice":false},"axis":{"values":[0,10,20,30,40],"title":"Mean Expression","offset":-5.6,"titlePadding":23}}},
 "layer":[
 {"data":{"name":"brackets"},"transform":[{"filter":"datum.p=='E'"}],"mark":{"type":"line","color":"black","strokeWidth":4},"encoding":{"order":{"field":"i"}}},
 {"data":{"name":"stars"},"transform":[{"filter":"datum.p=='E'"}],"mark":{"type":"text","font":"Liberation Sans","fontWeight":"bold","fontSize":50,"color":"black","baseline":"middle","dy":12},"encoding":{"text":{"field":"t"}}},
 {"data":{"name":"titles"},"transform":[{"filter":"datum.p=='E'"}],"mark":{"type":"text","font":"Liberation Sans","fontWeight":"bold","fontStyle":"italic","fontSize":40,"color":"black","baseline":"alphabetic"},"encoding":{"text":{"field":"t"}}},
 {"data":{"name":"letters"},"transform":[{"filter":"datum.p=='E'"}],"mark":{"type":"text","font":"Liberation Sans","fontWeight":"bold","fontSize":72,"color":"black","baseline":"alphabetic"},"encoding":{"text":{"field":"t"}}},
 {"data":{"name":"axisE"},"mark":{"type":"rule","color":"black","strokeWidth":6},"encoding":{"x2":{"field":"x2"}}},
 {"data":{"name":"points"},"transform":[{"filter":"datum.p=='E'"}],"mark":{"type":"point","filled":true,"opacity":1,"size":270},"encoding":{"color":{"field":"g","scale":{"domain":["NC","HCM"],"range":["#0000CD","#FF0000"]},"legend":null},"shape":{"field":"g","scale":{"domain":["NC","HCM"],"range":["circle","square"]},"legend":null}}},
 {"data":{"name":"stats"},"transform":[{"filter":"datum.p=='E'"}],"mark":{"type":"rule","color":"black","strokeWidth":4},"encoding":{"y":{"field":"lo"},"y2":{"field":"hi"}}},
 {"data":{"name":"stats"},"transform":[{"filter":"datum.p=='E'"}],"mark":{"type":"tick","orient":"horizontal","color":"black","size":120,"thickness":4,"opacity":1},"encoding":{"y":{"field":"mean"}}},
 {"data":{"name":"stats"},"transform":[{"filter":"datum.p=='E'"}],"mark":{"type":"tick","orient":"horizontal","color":"black","size":33,"thickness":4,"opacity":1},"encoding":{"y":{"field":"lo"}}},
 {"data":{"name":"stats"},"transform":[{"filter":"datum.p=='E'"}],"mark":{"type":"tick","orient":"horizontal","color":"black","size":33,"thickness":4,"opacity":1},"encoding":{"y":{"field":"hi"}}}
 ]},
{"width":352,"height":526,
 "encoding":{"x":{"field":"x","type":"quantitative","scale":{"domain":[0.4375,2.4375],"nice":false,"zero":false},"axis":{"values":[1,2],"labelExpr":"datum.value==1?'NC':'HCM'","title":null}},"y":{"field":"y","type":"quantitative","scale":{"domain":[0,80],"nice":false},"axis":{"values":[0,20,40,60,80],"title":"Mean Expression","offset":-11,"titlePadding":25}}},
 "layer":[
 {"data":{"name":"brackets"},"transform":[{"filter":"datum.p=='F'"}],"mark":{"type":"line","color":"black","strokeWidth":4},"encoding":{"order":{"field":"i"}}},
 {"data":{"name":"stars"},"transform":[{"filter":"datum.p=='F'"}],"mark":{"type":"text","font":"Liberation Sans","fontWeight":"bold","fontSize":50,"color":"black","baseline":"middle","dy":12},"encoding":{"text":{"field":"t"}}},
 {"data":{"name":"titles"},"transform":[{"filter":"datum.p=='F'"}],"mark":{"type":"text","font":"Liberation Sans","fontWeight":"bold","fontStyle":"italic","fontSize":40,"color":"black","baseline":"alphabetic"},"encoding":{"text":{"field":"t"}}},
 {"data":{"name":"letters"},"transform":[{"filter":"datum.p=='F'"}],"mark":{"type":"text","font":"Liberation Sans","fontWeight":"bold","fontSize":72,"color":"black","baseline":"alphabetic"},"encoding":{"text":{"field":"t"}}},
 {"data":{"name":"axisF"},"mark":{"type":"rule","color":"black","strokeWidth":6},"encoding":{"x2":{"field":"x2"}}},
 {"data":{"name":"points"},"transform":[{"filter":"datum.p=='F'"}],"mark":{"type":"point","filled":true,"opacity":1,"size":270},"encoding":{"color":{"field":"g","scale":{"domain":["NC","HCM"],"range":["#0000CD","#FF0000"]},"legend":null},"shape":{"field":"g","scale":{"domain":["NC","HCM"],"range":["circle","square"]},"legend":null}}},
 {"data":{"name":"stats"},"transform":[{"filter":"datum.p=='F'"}],"mark":{"type":"rule","color":"black","strokeWidth":4},"encoding":{"y":{"field":"lo"},"y2":{"field":"hi"}}},
 {"data":{"name":"stats"},"transform":[{"filter":"datum.p=='F'"}],"mark":{"type":"tick","orient":"horizontal","color":"black","size":120,"thickness":4,"opacity":1},"encoding":{"y":{"field":"mean"}}},
 {"data":{"name":"stats"},"transform":[{"filter":"datum.p=='F'"}],"mark":{"type":"tick","orient":"horizontal","color":"black","size":33,"thickness":4,"opacity":1},"encoding":{"y":{"field":"lo"}}},
 {"data":{"name":"stats"},"transform":[{"filter":"datum.p=='F'"}],"mark":{"type":"tick","orient":"horizontal","color":"black","size":33,"thickness":4,"opacity":1},"encoding":{"y":{"field":"hi"}}}
 ]}
]}
